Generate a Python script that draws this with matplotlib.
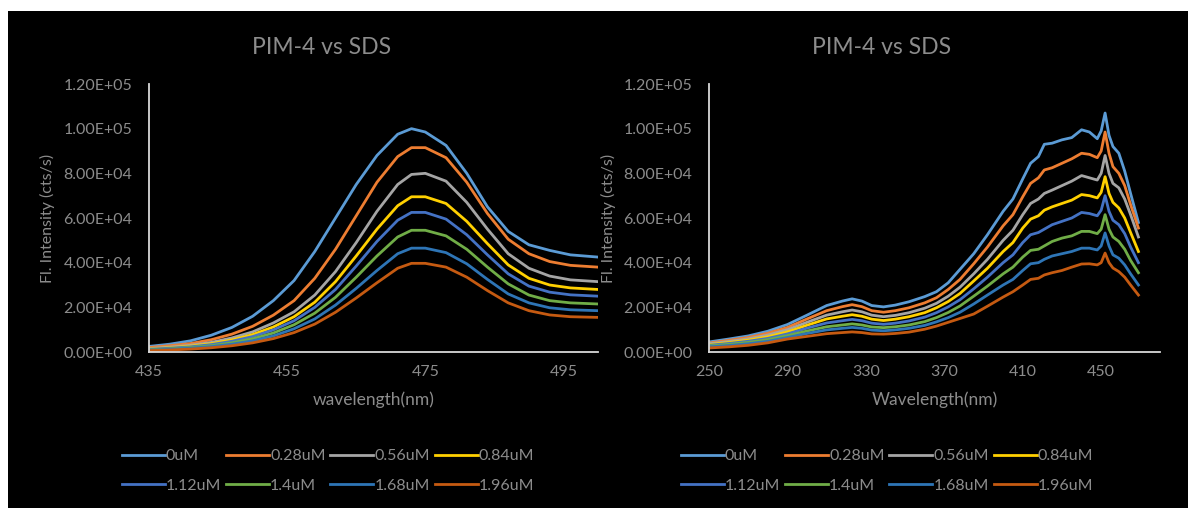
import matplotlib
matplotlib.use("Agg")
from matplotlib import pyplot as plt
from matplotlib.patches import Rectangle
from matplotlib.ticker import FuncFormatter

plt.rcParams['font.family'] = ['Lato', 'DejaVu Sans']

# concentrations of SDS and Excel-style series colours
labels = ['0uM', '0.28uM', '0.56uM', '0.84uM', '1.12uM', '1.4uM', '1.68uM', '1.96uM']
colors = ['#5B9BD5', '#ED7D31', '#A5A5A5', '#FFD000', '#4472C4', '#70AD47', '#2E75B6', '#C55A11']

# emission spectra (intensity in thousands of cts/s)
wl_em = [435, 438, 441, 444, 447, 450, 453, 456, 459, 462, 465, 468, 471, 473,
         475, 478, 481, 484, 487, 490, 493, 496, 500]
em_0 = [2.5, 3.5, 5.0, 7.5, 11, 16, 23, 32, 45, 60, 75, 88, 97.5, 100,
        98.5, 92.5, 80, 65, 54, 48, 45.5, 43.5, 42.5]
em_028 = [2.0, 2.8, 3.8, 5.5, 8, 11.5, 16.5, 23, 33, 46, 61, 76, 87.5, 91.5,
          91.5, 87, 76, 62, 50.5, 44, 40.5, 38.8, 38]
em_056 = [1.5, 2.2, 3.0, 4.3, 6.3, 9, 13, 18, 25.5, 36, 49, 63, 75, 79.5,
          80, 76.5, 67, 55, 44, 37.5, 34, 32.3, 31.5]
em_084 = [1.3, 1.9, 2.6, 3.7, 5.4, 7.8, 11.2, 15.8, 22.3, 31.5, 43, 55, 65.5, 69.5,
          69.5, 66.5, 58.5, 48.5, 39, 33, 30, 28.7, 28]
em_112 = [1.2, 1.7, 2.3, 3.3, 4.8, 6.9, 9.9, 14, 20, 28, 38.5, 49.5, 59, 62.5,
          62.5, 59.5, 52.5, 43.5, 35, 29.5, 26.8, 25.6, 25]
em_14 = [1.0, 1.4, 2.0, 2.8, 4.1, 5.9, 8.5, 12.2, 17.4, 24.5, 33.5, 43, 51.5, 54.5,
         54.5, 52, 46, 38, 30.5, 25.5, 23, 22, 21.5]
em_168 = [0.8, 1.2, 1.7, 2.4, 3.5, 5.0, 7.2, 10.4, 14.8, 21, 28.5, 36.5, 44, 46.5,
          46.5, 44.5, 39.5, 32.5, 26, 22, 19.8, 18.9, 18.5]
em_196 = [0.6, 0.9, 1.3, 1.9, 2.8, 4.1, 6.0, 8.7, 12.5, 17.8, 24.2, 31, 37.5, 39.7,
          39.7, 38, 33.5, 27.5, 22, 18.5, 16.6, 15.8, 15.5]

# excitation spectra (intensity in thousands of cts/s)
wl_ex = [250, 260, 270, 280, 290, 300, 310, 318, 323, 328, 333, 339, 345, 352,
         360, 366, 372, 378, 385, 392, 400, 405, 410, 414, 418, 421, 425, 430,
         435, 440, 444, 448, 450, 452, 454, 456, 459, 462, 465, 469]
ex_0 = [4.5, 5.8, 7.2, 9.3, 12.3, 16.5, 20.8, 22.8, 23.8, 22.8, 20.8, 20.2, 21.0, 22.5,
        24.8, 27.0, 31.0, 37.0, 44.0, 52.5, 63.0, 68.5, 77.5, 84.5, 87.5, 93.0, 93.5, 95.0,
        96.0, 99.5, 98.5, 95.5, 99.0, 107.0, 97.0, 92.0, 89.0, 81.0, 71.0, 58.0]
ex_028 = [4.0, 5.2, 6.5, 8.4, 11.0, 14.8, 18.5, 20.3, 21.2, 20.3, 18.5, 17.8, 18.5, 19.8,
          22.0, 24.3, 28.0, 32.5, 39.5, 47.0, 56.5, 61.5, 69.5, 75.5, 78.0, 81.5, 82.5, 84.5,
          86.5, 89.0, 88.5, 87.0, 90.0, 98.5, 89.0, 83.0, 80.0, 74.5, 66.0, 55.5]
ex_056 = [3.7, 4.7, 5.9, 7.6, 10.0, 13.3, 16.5, 18.0, 18.8, 18.0, 16.5, 15.8, 16.4, 17.6,
          19.6, 21.8, 25.0, 29.0, 35.0, 41.5, 50.0, 54.5, 61.5, 66.5, 68.5, 71.0, 72.5, 74.5,
          76.5, 79.0, 78.0, 77.0, 80.0, 88.0, 80.0, 75.5, 73.5, 68.5, 61.5, 51.5]
ex_084 = [3.3, 4.2, 5.3, 6.8, 9.0, 12.0, 14.8, 16.0, 16.7, 16.0, 14.7, 14.1, 14.7, 15.8,
          17.6, 19.8, 22.6, 26.2, 31.8, 37.5, 45.0, 49.0, 55.5, 59.5, 61.0, 63.5, 65.0, 66.5,
          68.0, 70.5, 70.0, 69.0, 71.5, 78.5, 71.0, 67.0, 64.5, 60.0, 53.5, 45.0]
ex_112 = [3.0, 3.8, 4.8, 6.1, 8.1, 10.7, 13.0, 14.0, 14.6, 14.0, 12.9, 12.4, 12.9, 13.9,
          15.6, 17.6, 20.2, 23.4, 28.3, 33.5, 40.0, 43.5, 49.0, 52.5, 53.5, 55.0, 57.0, 58.5,
          60.0, 62.5, 62.0, 61.0, 63.5, 70.0, 63.0, 59.0, 57.0, 53.0, 47.0, 40.0]
ex_14 = [2.7, 3.4, 4.3, 5.5, 7.3, 9.4, 11.3, 12.1, 12.6, 12.1, 11.2, 10.9, 11.3, 12.1,
         13.6, 15.4, 17.7, 20.6, 25.0, 29.5, 35.0, 38.0, 42.5, 45.5, 46.0, 47.5, 49.5, 51.0,
         52.0, 54.0, 54.0, 53.0, 55.0, 61.5, 55.0, 51.5, 49.5, 46.0, 41.0, 35.5]
ex_168 = [2.3, 2.9, 3.7, 4.8, 6.5, 8.3, 9.9, 10.6, 11.0, 10.6, 9.8, 9.5, 9.9, 10.6,
          11.9, 13.5, 15.4, 17.8, 21.5, 25.5, 30.0, 32.5, 36.5, 39.5, 40.0, 41.5, 43.0, 44.0,
          45.0, 46.5, 46.5, 45.7, 47.5, 53.3, 47.5, 43.5, 42.0, 39.0, 35.0, 30.0]
ex_196 = [1.8, 2.3, 3.0, 4.1, 5.8, 7.0, 8.2, 8.7, 9.0, 8.7, 8.1, 8.0, 8.3, 8.9,
          10.2, 11.6, 13.3, 15.0, 17.0, 20.5, 24.6, 27.0, 30.0, 32.5, 33.0, 34.5, 35.5, 36.5,
          38.0, 39.4, 39.5, 39.0, 40.0, 44.3, 40.0, 37.6, 36.0, 33.5, 30.0, 25.5]

em_series = [em_0, em_028, em_056, em_084, em_112, em_14, em_168, em_196]
ex_series = [ex_0, ex_028, ex_056, ex_084, ex_112, ex_14, ex_168, ex_196]

txt = '#8c8c8c'
W, H = 1188, 508


def sci(v, pos):
    return '%.2E' % v


def setup(ax, xlim, xticks):
    ax.set_facecolor('black')
    ax.set_xlim(*xlim)
    ax.set_ylim(0, 120000)
    ax.set_xticks(xticks)
    ax.set_yticks(range(0, 120001, 20000))
    ax.yaxis.set_major_formatter(FuncFormatter(sci))
    for s in ['top', 'right']:
        ax.spines[s].set_visible(False)
    for s in ['left', 'bottom']:
        ax.spines[s].set_color('#d9d9d9')
        ax.spines[s].set_linewidth(1.3)
    ax.tick_params(axis='both', length=0, colors=txt, labelsize=11.5)
    ax.tick_params(axis='y', pad=12)
    ax.tick_params(axis='x', pad=9)


fig = plt.figure(figsize=(W / 100, H / 100), dpi=100)
fig.patch.set_facecolor('white')
fig.patches.append(Rectangle((8 / W, 0), 1, 1 - 11 / H, transform=fig.transFigure,
                             facecolor='black', edgecolor='none', zorder=-10))

ax1 = fig.add_axes([149 / W, 156 / H, 449 / W, 268 / H])
ax2 = fig.add_axes([709 / W, 156 / H, 451 / W, 268 / H])

for ys, c, lab in zip(em_series, colors, labels):
    ax1.plot(wl_em, [v * 1000 for v in ys], color=c, lw=2.0, label=lab)
for ys, c, lab in zip(ex_series, colors, labels):
    ax2.plot(wl_ex, [v * 1000 for v in ys], color=c, lw=2.0, label=lab)

setup(ax1, (435, 500), [435, 455, 475, 495])
setup(ax2, (250, 480), [250, 290, 330, 370, 410, 450])

fig.text(322 / W, 1 - 47 / H, 'PIM-4 vs SDS', color=txt, fontsize=16.5, ha='center', va='center')
fig.text(882 / W, 1 - 47 / H, 'PIM-4 vs SDS', color=txt, fontsize=16.5, ha='center', va='center')
fig.text(374 / W, 1 - 400 / H, 'wavelength(nm)', color=txt, fontsize=12.5, ha='center', va='center')
fig.text(935 / W, 1 - 400 / H, 'Wavelength(nm)', color=txt, fontsize=12.5, ha='center', va='center')
fig.text(47 / W, 1 - 218 / H, 'Fl. Intensity (cts/s)', color=txt, fontsize=11.5,
         rotation=90, ha='center', va='center')
fig.text(608 / W, 1 - 218 / H, 'Fl. Intensity (cts/s)', color=txt, fontsize=11.5,
         rotation=90, ha='center', va='center')

# legend fills row by row: 4 entries on top, 4 below
order = [0, 4, 1, 5, 2, 6, 3, 7]
for ax, cx in [(ax1, 328), (ax2, 887)]:
    h, l = ax.get_legend_handles_labels()
    leg = fig.legend([h[i] for i in order], [l[i] for i in order], loc='center',
                     bbox_to_anchor=(cx / W, 1 - 471 / H), ncol=4,
                     frameon=False, fontsize=11.5, handlelength=2.7, handletextpad=0.05,
                     columnspacing=0.3, labelspacing=0.95)
    for t in leg.get_texts():
        t.set_color(txt)

fig.savefig('out.png', dpi=100, facecolor=fig.get_facecolor())
